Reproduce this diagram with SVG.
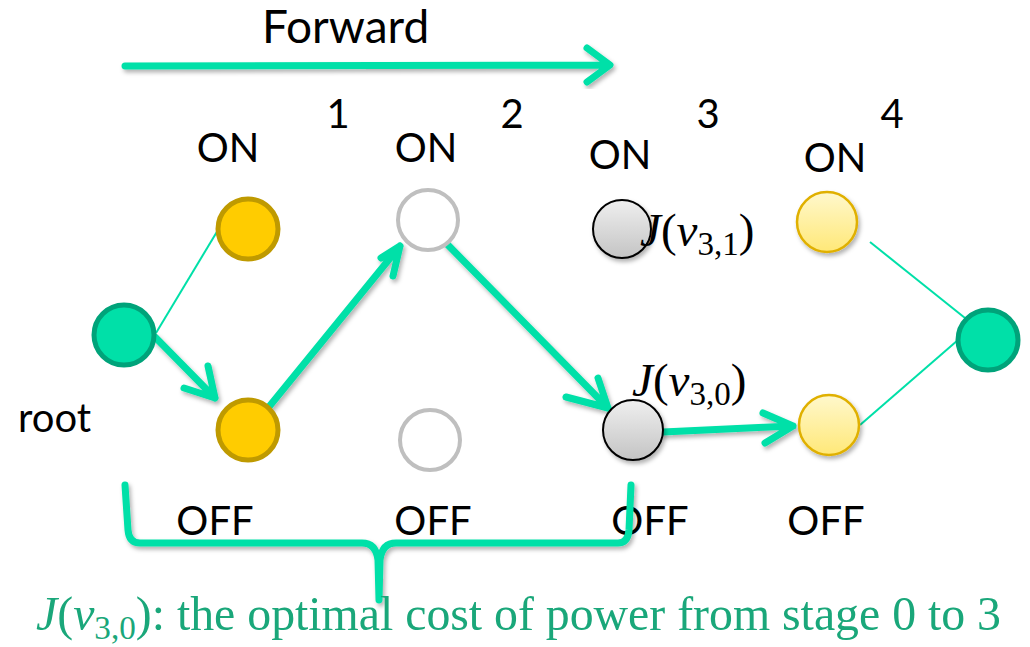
<svg xmlns="http://www.w3.org/2000/svg" width="1030" height="647" viewBox="0 0 1030 647">
  <style>
    .lbl { font-family: Lato, "Liberation Sans", sans-serif; font-size: 40px; fill: #000; }
    .title { font-size: 46px; }
    .math { font-family: "Liberation Serif", serif; font-size: 47px; fill: #000; }
    .cap { font-family: "Liberation Serif", serif; font-size: 49px; fill: #1AA77A; }
    .thin { stroke: #00E0A8; stroke-width: 2; fill: none; }
    .thick { stroke: #00E0A8; stroke-width: 7; fill: none; stroke-linecap: round; stroke-linejoin: round; }
  </style>
  <defs>
    <filter id="shadow" x="-20%" y="-20%" width="140%" height="140%">
      <feDropShadow dx="2" dy="3" stdDeviation="2" flood-color="#000" flood-opacity="0.3"/>
    </filter>
    <linearGradient id="grey" x1="0" y1="0" x2="0" y2="1">
      <stop offset="0" stop-color="#EFEFEF"/>
      <stop offset="1" stop-color="#C4C4C4"/>
    </linearGradient>
    <linearGradient id="pale" x1="0" y1="0" x2="0" y2="1">
      <stop offset="0" stop-color="#FFF8CC"/>
      <stop offset="1" stop-color="#FFE878"/>
    </linearGradient>
  </defs>
  <rect width="1030" height="647" fill="#fff"/>

  <!-- direction arrow -->
  <g id="forward">
    <text class="lbl title" x="262" y="43">Forward</text>
    <path class="thick" d="M125 66 L608 65 M587 48 L610 65 L587 82" filter="url(#shadow)"/>
  </g>

  <!-- stage numbers and state labels -->
  <g id="labels">
    <text class="lbl" x="338" y="128" text-anchor="middle">1</text>
    <text class="lbl" x="512" y="128" text-anchor="middle">2</text>
    <text class="lbl" x="708" y="128" text-anchor="middle">3</text>
    <text class="lbl" x="892" y="128" text-anchor="middle">4</text>
    <text class="lbl" x="228" y="162" text-anchor="middle">ON</text>
    <text class="lbl" x="426" y="162" text-anchor="middle">ON</text>
    <text class="lbl" x="620" y="169" text-anchor="middle">ON</text>
    <text class="lbl" x="835" y="172" text-anchor="middle">ON</text>
    <text class="lbl" x="18" y="432">root</text>
    <text class="lbl" x="215" y="535" text-anchor="middle">OFF</text>
    <text class="lbl" x="433" y="535" text-anchor="middle">OFF</text>
    <text class="lbl" x="650" y="535" text-anchor="middle">OFF</text>
    <text class="lbl" x="826" y="535" text-anchor="middle">OFF</text>
  </g>

  <!-- connectors -->
  <g id="connectors">
    <line class="thin" x1="156" y1="333" x2="218" y2="230"/>
    <line class="thin" x1="870" y1="242" x2="965" y2="318"/>
    <line class="thin" x1="860" y1="425" x2="958" y2="340"/>
    <g filter="url(#shadow)">
      <path class="thick" d="M155 337 L215 398 M184 388 L215 398 L208 366"/>
      <path class="thick" d="M268 408 L400 246 M381 258 L400 246 L393 276"/>
      <path class="thick" d="M446 243 L608 408 M566 397 L608 408 L598 378"/>
      <path class="thick" d="M663 432 L793 426 M763 413 L793 426 L765 443"/>
    </g>
  </g>

  <!-- nodes -->
  <g id="root">
    <circle cx="124" cy="335" r="30" fill="#00E0A8" stroke="#00A37A" stroke-width="5"/>
  </g>
  <g id="s1-on">
    <circle cx="248" cy="229" r="30" fill="#FFCC00" stroke="#BF9A00" stroke-width="5"/>
  </g>
  <g id="s1-off">
    <circle cx="248" cy="430" r="30" fill="#FFCC00" stroke="#BF9A00" stroke-width="5"/>
  </g>
  <g id="s2-on">
    <circle cx="428" cy="220" r="30" fill="#fff" stroke="#BFBFBF" stroke-width="4"/>
  </g>
  <g id="s2-off">
    <circle cx="430" cy="440" r="30" fill="#fff" stroke="#BFBFBF" stroke-width="4"/>
  </g>
  <g id="s3-on">
    <circle cx="622" cy="229" r="29" fill="url(#grey)" stroke="#000" stroke-width="2" filter="url(#shadow)"/>
  </g>
  <g id="s3-off">
    <circle cx="633" cy="430" r="30" fill="url(#grey)" stroke="#000" stroke-width="2" filter="url(#shadow)"/>
  </g>
  <g id="s4-on">
    <circle cx="827" cy="222" r="30" fill="url(#pale)" stroke="#E0B000" stroke-width="2.5" filter="url(#shadow)"/>
  </g>
  <g id="s4-off">
    <circle cx="829" cy="425" r="30" fill="url(#pale)" stroke="#E0B000" stroke-width="2.5" filter="url(#shadow)"/>
  </g>
  <g id="end">
    <circle cx="988" cy="340" r="30" fill="#00E0A8" stroke="#00A37A" stroke-width="5"/>
  </g>

  <!-- cost labels -->
  <g id="cost-labels">
    <text class="math" x="640" y="246"><tspan font-style="italic">J</tspan>(<tspan font-style="italic">v</tspan><tspan font-size="33" dy="9">3,1</tspan><tspan dy="-9">)</tspan></text>
    <text class="math" x="632" y="396"><tspan font-style="italic">J</tspan>(<tspan font-style="italic">v</tspan><tspan font-size="33" dy="9">3,0</tspan><tspan dy="-9">)</tspan></text>
  </g>

  <!-- brace spanning stages 0 to 3 -->
  <g id="brace">
    <path class="thick" d="M125 485 L128 530 Q129 543 140 543 L362 543 Q376 543 378 560 L379 600 M379 600 L380 560 Q382 543 396 543 L618 543 Q628 543 629 530 L631 485" filter="url(#shadow)"/>
  </g>

  <!-- caption -->
  <g id="caption">
    <text class="cap" x="36" y="630" textLength="965" lengthAdjust="spacingAndGlyphs"><tspan font-style="italic">J</tspan>(<tspan font-style="italic">v</tspan><tspan font-size="34" dy="9">3,0</tspan><tspan dy="-9">): the optimal cost of power from stage 0 to 3</tspan></text>
  </g>
</svg>
